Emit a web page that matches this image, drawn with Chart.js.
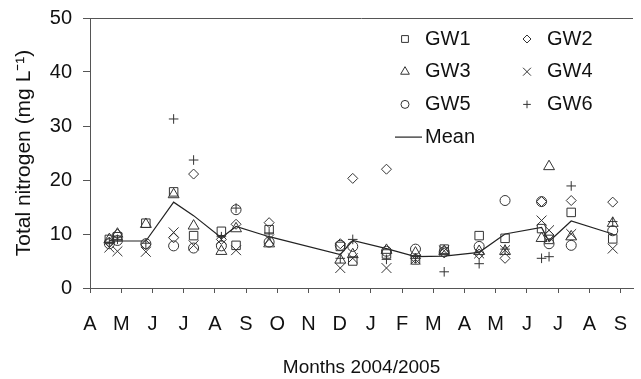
<!DOCTYPE html>
<html>
<head>
<meta charset="utf-8">
<script src="https://cdn.jsdelivr.net/npm/chart.js@4.4.1/dist/chart.umd.min.js"></script>
<style>
  html, body { margin: 0; padding: 0; background: #fff; }
  #wrap { width: 641px; height: 379px; }
</style>
</head>
<body>
<div id="wrap"><canvas id="tn-chart" width="641" height="379"></canvas></div>
<script>
const monthLabels = ['A', 'M', 'J', 'J', 'A', 'S', 'O', 'N', 'D', 'J', 'F', 'M', 'A', 'M', 'J', 'J', 'A', 'S'];

// sampling dates in months counted from 1 April 2004
const sampleDates = [0.62, 0.88, 1.79, 2.68, 3.32, 4.21, 4.68, 5.74, 8.02, 8.42, 9.5, 10.43, 11.35, 12.47, 13.3, 14.47, 14.71, 15.42, 16.75];

const gw1 = [9.0, 9.5, 12.0, 17.8, 9.7, 10.5, 7.9, 10.8, 7.7, 5.0, 6.3, 5.2, 7.2, 9.7, 9.2, 11.0, 9.0, 14.0, 9.1];
const gw2 = [8.5, 10.0, 8.0, 9.3, 21.1, 9.0, 11.8, 12.1, 8.2, 20.3, 22.0, 5.5, 6.5, 6.3, 5.5, 16.0, 9.8, 16.2, 15.9];
const gw3 = [9.0, 10.0, 11.8, 17.3, 11.5, 6.8, 11.0, 8.2, 5.2, 6.2, 7.0, 6.5, 6.8, 6.8, 6.8, 9.2, 22.5, 9.5, 12.0];
const gw4 = [7.5, 6.8, 6.7, 10.3, 7.9, 9.0, 7.0, 9.0, 3.7, 5.5, 3.7, 5.3, 6.9, 6.4, 7.0, 12.5, 10.7, 10.0, 7.3];
const gw5 = [8.2, 8.8, 8.2, 7.8, 7.4, 7.8, 14.5, 8.5, 7.9, 7.7, 6.8, 7.2, 6.7, 7.7, 16.2, 16.0, 8.2, 7.9, 10.6];
const gw6 = [8.5, 9.0, 8.3, 31.3, 23.7, 9.5, 14.8, 10.2, 5.5, 9.0, 5.3, 5.5, 3.0, 4.5, 7.2, 5.5, 5.8, 18.9, 12.3];
const meanValues = [8.8, 8.7, 8.7, 15.9, 13.4, 9.3, 11.4, 9.5, 6.2, 8.8, 7.3, 5.8, 5.9, 6.6, 10.0, 11.2, 8.6, 12.4, 10.0];

const yTicks = [0, 10, 20, 30, 40, 50];

const FONT = '"Liberation Sans", Arial, sans-serif';
const INK = '#333';
const AXIS = '#555';

function toPoints(values) {
    return values.map((v, i) => ({ x: sampleDates[i], y: v }));
}

const wells = [
    { label: 'GW1', data: gw1, pointStyle: 'rect', radius: 6 },
    { label: 'GW2', data: gw2, pointStyle: 'rectRot', radius: 5 },
    { label: 'GW3', data: gw3, pointStyle: 'triangle', radius: 6.3 },
    { label: 'GW4', data: gw4, pointStyle: 'crossRot', radius: 7 },
    { label: 'GW5', data: gw5, pointStyle: 'circle', radius: 5 },
    { label: 'GW6', data: gw6, pointStyle: 'cross', radius: 4.8 }
];

const datasets = wells.map(w => ({
    type: 'scatter',
    label: w.label,
    data: toPoints(w.data),
    pointStyle: w.pointStyle,
    pointRadius: w.radius,
    pointBorderColor: INK,
    pointBackgroundColor: 'rgba(0,0,0,0)',
    pointBorderWidth: 1,
    showLine: false
}));

datasets.push({
    type: 'line',
    label: 'Mean',
    data: toPoints(meanValues),
    borderColor: '#222',
    borderWidth: 1.2,
    pointRadius: 0,
    fill: false,
    tension: 0
});

// top frame line and the two-column legend inside the plot
const framePlugin = {
    id: 'frameAndLegend',
    afterDraw(chart) {
        const ctx = chart.ctx;
        const area = chart.chartArea;
        ctx.save();
        ctx.strokeStyle = AXIS;
        ctx.lineWidth = 1;
        ctx.beginPath();
        ctx.moveTo(area.left, area.top + 0.5);
        ctx.lineTo(area.right, area.top + 0.5);
        ctx.stroke();

        ctx.font = '20px ' + FONT;
        ctx.textBaseline = 'middle';
        ctx.textAlign = 'left';
        const colX = [area.right - 228, area.right - 106];
        const rowY = area.top + 21;
        const rowGap = 32.7;
        wells.forEach((w, i) => {
            const mx = colX[i % 2];
            const my = rowY + Math.floor(i / 2) * rowGap;
            ctx.strokeStyle = INK;
            ctx.fillStyle = 'rgba(0,0,0,0)';
            ctx.lineWidth = 1;
            Chart.helpers.drawPoint(ctx, {
                pointStyle: w.pointStyle,
                radius: w.radius * 0.8,
                rotation: 0,
                borderWidth: 1
            }, mx, my);
            ctx.fillStyle = '#111';
            ctx.fillText(w.label, mx + 20, my);
        });
        const my = rowY + 3 * rowGap;
        ctx.strokeStyle = '#222';
        ctx.lineWidth = 1.2;
        ctx.beginPath();
        ctx.moveTo(colX[0] - 10, my);
        ctx.lineTo(colX[0] + 17, my);
        ctx.stroke();
        ctx.fillStyle = '#111';
        ctx.fillText('Mean', colX[0] + 20, my);
        ctx.restore();
    }
};

Chart.defaults.font.family = FONT;
Chart.defaults.color = '#111';

new Chart(document.getElementById('tn-chart'), {
    data: { datasets },
    options: {
        responsive: false,
        animation: false,
        layout: { padding: { top: 18, right: 0, left: 0, bottom: 0 } },
        plugins: {
            legend: { display: false },
            tooltip: { enabled: false }
        },
        scales: {
            x: {
                type: 'linear',
                min: 0,
                max: 17.4,
                afterFit: scale => {
                    scale.height = 91;
                    scale.paddingLeft = 0;
                    scale.paddingRight = 0;
                },
                afterBuildTicks: scale => {
                    scale.ticks = monthLabels.map((m, i) => ({ value: i }));
                },
                ticks: {
                    callback: value => monthLabels[value],
                    font: { size: 20 },
                    color: '#111',
                    padding: 19,
                    maxRotation: 0,
                    autoSkip: false
                },
                grid: { drawOnChartArea: false, drawTicks: true, tickLength: 5, color: AXIS },
                border: { color: AXIS, width: 1 },
                title: {
                    display: true,
                    text: 'Months 2004/2005',
                    font: { size: 19 },
                    color: '#111',
                    padding: { top: 0, bottom: 0 }
                }
            },
            y: {
                min: 0,
                max: 50,
                afterFit: scale => {
                    scale.width = 90;
                    scale.paddingTop = 0;
                    scale.paddingBottom = 0;
                },
                afterBuildTicks: scale => {
                    scale.ticks = yTicks.map(v => ({ value: v }));
                },
                ticks: {
                    font: { size: 20 },
                    color: '#111',
                    padding: 11
                },
                grid: { drawOnChartArea: false, drawTicks: true, tickLength: 7, color: AXIS },
                border: { color: AXIS, width: 1 },
                title: {
                    display: true,
                    text: 'Total nitrogen (mg L\u207B\u00B9)',
                    font: { size: 21 },
                    color: '#111',
                    padding: { top: 12, bottom: 0 }
                }
            }
        }
    },
    plugins: [framePlugin]
});
</script>
</body>
</html>
